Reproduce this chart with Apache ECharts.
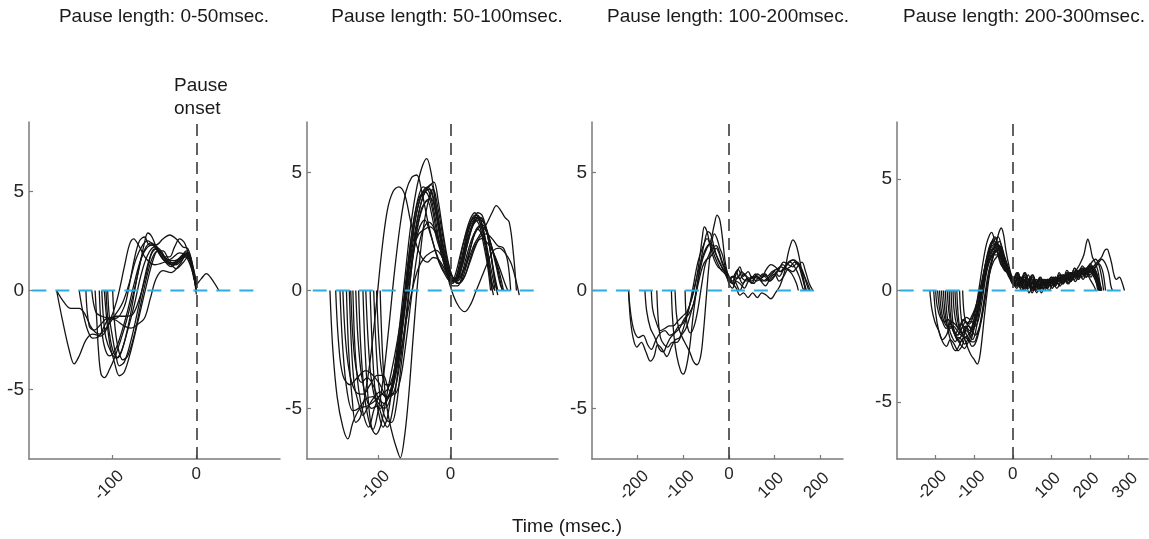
<!DOCTYPE html>
<html>
<head>
<meta charset="utf-8">
<script src="https://cdn.jsdelivr.net/npm/echarts@6/dist/echarts.min.js"></script>
<style>
html,body{margin:0;padding:0;background:#fff;}
#chart{width:1149px;height:539px;}
</style>
</head>
<body>
<div id="chart"></div>
<script>
// ---------- DATA ----------
const panelTitles = ["Pause length: 0-50msec.", "Pause length: 50-100msec.", "Pause length: 100-200msec.", "Pause length: 200-300msec."];
const xAxisTitle = "Time (msec.)";
const onsetLabel = "Pause\nonset";
const xTickValues = [[-100, 0], [-100, 0], [-200, -100, 0, 100, 200], [-200, -100, 0, 100, 200, 300]];
const xRotatedLabelValues = [[-100], [-100], [-200, -100, 100, 200], [-200, -100, 100, 200, 300]];
const xUprightLabelValues = [0];
const yTickValues = [-5, 0, 5];
const xRanges = [[-200, 100], [-200, 150], [-300, 250], [-300, 350]];
const yRanges = [[-8.5, 8.5], [-7.15, 7.15], [-7.15, 7.15], [-7.55, 7.55]];
const zeroLineExtents = [[-196, 78], [-192, 124], [-298, 206], [-293, 298]];

const panel1Traces = [
  [[-167,0],[-160,-1.5],[-152,-3.0],[-146,-3.7],[-140,-3.3],[-132,-2.5],[-124,-2.2],[-114,-2.3],[-104,-1.6],[-95,-0.5],[-86,1.2],[-80,2.3],[-75,2.6],[-68,2.2],[-60,1.6],[-50,1.3],[-40,1.4],[-30,1.6],[-20,1.9],[-12,1.7],[-5,1.0],[0,0.2]],
  [[-167,0],[-158,-0.6],[-150,-0.9],[-140,-0.9],[-133,-1.2],[-125,-1.9],[-116,-2.2],[-108,-1.9],[-98,-1.3],[-88,-0.6],[-80,0.4],[-72,1.6],[-64,2.3],[-58,2.5],[-50,2.2],[-40,1.6],[-30,1.2],[-20,1.6],[-12,1.9],[-6,1.2],[0,0.3],[6,0.6],[12,0.85],[18,0.6],[27,0]],
  [[-140,0],[-136,-1.0],[-130,-2.0],[-124,-2.4],[-116,-2.3],[-106,-1.5],[-95,-1.3],[-85,-1.3],[-76,-1.2],[-68,-0.4],[-60,0.8],[-54,1.8],[-48,2.1],[-40,1.6],[-30,1.3],[-20,1.6],[-12,2.0],[-6,1.4],[0,0]],
  [[-121,0],[-119,-1.5],[-117,-3.0],[-114,-4.2],[-110,-4.4],[-104,-4.0],[-96,-3.2],[-86,-1.9],[-76,-0.3],[-68,1.2],[-62,2.4],[-58,2.9],[-53,2.7],[-46,2.0],[-38,1.5],[-28,1.4],[-18,1.7],[-12,1.9],[-6,1.4],[0,0.1]],
  [[-116,0],[-114,-1.6],[-110,-2.8],[-104,-3.3],[-97,-3.0],[-90,-2.2],[-82,-1.0],[-74,0.4],[-66,1.6],[-58,2.2],[-50,2.3],[-44,2.0],[-36,1.6],[-26,1.5],[-16,1.8],[-10,1.9],[-4,1.2],[0,0.4]],
  [[-113,0],[-111,-1.4],[-108,-2.4],[-102,-3.1],[-96,-3.4],[-90,-3.1],[-82,-2.0],[-74,-0.7],[-66,0.8],[-58,1.8],[-50,2.2],[-42,2.0],[-34,1.4],[-26,1.3],[-18,1.6],[-12,1.7],[-6,1.3],[0,0]],
  [[-106,0],[-104,-1.3],[-100,-2.4],[-96,-3.3],[-92,-3.8],[-86,-3.6],[-78,-2.5],[-70,-1.0],[-62,0.6],[-56,1.6],[-50,2.1],[-44,2.0],[-36,1.5],[-28,1.3],[-20,1.5],[-13,1.8],[-6,1.3],[0,0]],
  [[-110,0],[-107,-1.5],[-103,-2.8],[-98,-3.6],[-92,-4.3],[-86,-4.1],[-78,-3.0],[-70,-1.6],[-60,0.2],[-52,1.5],[-46,2.0],[-40,2.0],[-32,1.5],[-24,1.3],[-16,1.6],[-10,1.9],[-4,1.0],[0,-0.2]],
  [[-125,0],[-120,-1.1],[-113,-1.3],[-104,-1.4],[-96,-1.5],[-86,-1.8],[-78,-1.9],[-70,-1.7],[-62,-1.4],[-55,-0.4],[-48,0.6],[-40,1.0],[-30,0.9],[-20,1.3],[-12,1.8],[-6,1.4],[0,0]],
  [[-108,0],[-105,-1.8],[-100,-3.0],[-94,-3.4],[-88,-2.9],[-80,-1.5],[-72,0.4],[-66,1.6],[-60,2.2],[-54,2.4],[-48,2.2],[-40,1.7],[-32,1.7],[-26,2.2],[-20,2.6],[-14,2.4],[-8,1.6],[0,0.3]],
  [[-100,0],[-98,-1.5],[-94,-2.8],[-88,-3.5],[-82,-3.3],[-74,-2.2],[-66,-0.6],[-58,0.9],[-52,1.7],[-46,2.0],[-40,1.8],[-32,1.4],[-24,1.1],[-16,1.4],[-10,1.7],[-4,1.0],[0,0]],
  [[-132,0],[-128,-1.8],[-122,-2.0],[-114,-1.7],[-106,-1.4],[-96,-1.4],[-86,-0.8],[-80,0.3],[-74,1.6],[-68,2.5],[-62,2.7],[-56,2.3],[-48,2.3],[-40,2.6],[-32,2.8],[-24,2.6],[-16,2.2],[-10,2.1],[-4,1.2],[0,0.2]]
];

const panel2Traces = [
  [[-168,0],[-164,-2.5],[-158,-4.5],[-150,-5.8],[-143,-6.3],[-136,-5.6],[-126,-5.0],[-116,-4.9],[-106,-4.7],[-96,-4.4],[-88,-4.2],[-80,-3.6],[-72,-2.2],[-62,-0.2],[-52,1.5],[-44,2.6],[-36,3.0],[-28,2.4],[-20,1.6],[-12,1.0],[-4,0.6],[2,0.4],[8,0.8],[16,1.8],[24,2.6],[32,3.1],[38,3.2],[44,2.8],[50,2.0],[56,1.0],[62,0.1]],
  [[-154,0],[-150,-2.5],[-144,-4.3],[-136,-5.1],[-128,-5.0],[-118,-4.6],[-108,-4.5],[-100,-4.8],[-92,-5.0],[-84,-4.6],[-76,-3.2],[-68,-1.2],[-60,1.0],[-52,2.8],[-44,3.9],[-36,4.2],[-28,3.8],[-20,2.6],[-12,1.5],[-4,0.7],[3,0.3],[10,0.8],[18,2.0],[26,2.9],[34,3.3],[40,3.0],[46,2.4],[52,1.4],[58,0.3],[62,0]],
  [[-141,0],[-138,-2.4],[-134,-4.0],[-128,-4.8],[-122,-5.3],[-116,-5.0],[-108,-4.6],[-98,-4.3],[-88,-4.6],[-80,-4.0],[-72,-2.5],[-62,0.2],[-54,2.4],[-46,3.8],[-38,4.4],[-30,4.2],[-22,3.2],[-14,1.8],[-6,0.8],[2,0.3],[10,0.6],[18,1.6],[26,2.7],[34,3.2],[42,3.0],[48,2.2],[54,1.0],[58,0]],
  [[-136,0],[-133,-2.5],[-128,-4.2],[-121,-5.3],[-114,-5.8],[-106,-5.0],[-96,-4.4],[-88,-4.5],[-80,-4.1],[-72,-2.8],[-64,-0.6],[-56,1.6],[-48,3.2],[-40,4.1],[-32,4.4],[-25,4.0],[-18,3.0],[-10,1.8],[-2,0.8],[4,0.4],[12,0.9],[20,2.0],[28,2.9],[36,3.1],[44,2.6],[50,1.6],[56,0.4],[60,-0.2]],
  [[-132,0],[-129,-2.0],[-124,-3.6],[-117,-4.6],[-110,-5.0],[-102,-4.9],[-94,-5.5],[-88,-5.8],[-82,-5.3],[-74,-3.6],[-66,-1.4],[-58,1.0],[-50,2.8],[-42,3.9],[-34,4.3],[-27,4.5],[-20,3.6],[-12,2.2],[-4,1.0],[3,0.4],[10,0.5],[18,1.4],[26,2.4],[34,3.0],[42,3.1],[50,2.6],[56,1.6],[62,0.4],[66,-0.2]],
  [[-122,0],[-119,-2.5],[-115,-4.5],[-110,-5.8],[-104,-6.1],[-98,-5.8],[-92,-5.0],[-86,-4.0],[-78,-2.8],[-70,-1.4],[-60,0.6],[-50,2.4],[-42,3.6],[-35,4.2],[-28,4.3],[-22,3.6],[-14,2.2],[-6,1.0],[1,0.4],[8,0.5],[16,1.3],[24,2.2],[32,2.8],[40,3.0],[48,2.8],[56,2.0],[64,1.0],[70,0.2],[74,0]],
  [[-107,0],[-104,-2.2],[-100,-4.0],[-95,-5.0],[-89,-5.5],[-82,-5.6],[-76,-5.0],[-70,-3.5],[-62,-1.4],[-54,1.0],[-46,3.0],[-38,4.0],[-30,4.4],[-23,4.6],[-17,3.8],[-10,2.4],[-3,1.2],[4,0.5],[12,0.3],[20,0.8],[28,1.8],[36,2.6],[44,2.8],[52,2.4],[60,1.6],[68,0.8],[74,0]],
  [[-98,0],[-95,-2.5],[-91,-4.4],[-86,-5.4],[-80,-6.2],[-74,-6.8],[-70,-7.1],[-64,-6.2],[-58,-4.4],[-52,-2.0],[-45,0.6],[-38,2.6],[-30,3.9],[-24,4.3],[-18,3.6],[-10,2.2],[-2,1.0],[6,0.5],[14,0.6],[22,1.4],[30,2.2],[38,2.6],[46,2.2],[52,1.4],[58,0.3],[62,0]],
  [[-160,0],[-156,-2.2],[-150,-3.6],[-140,-4.0],[-130,-3.7],[-118,-3.4],[-108,-3.6],[-98,-4.0],[-88,-4.5],[-80,-4.4],[-72,-3.4],[-64,-1.6],[-56,0.5],[-48,2.3],[-40,3.5],[-32,3.8],[-26,3.2],[-20,2.3],[-12,1.5],[-4,0.8],[3,0.2],[10,0.2],[18,0.8],[26,1.6],[34,2.4],[42,2.7],[50,2.5],[58,1.8],[66,0.9],[72,0]],
  [[-145,0],[-142,-2.5],[-137,-4.6],[-132,-5.6],[-126,-5.4],[-120,-4.6],[-112,-3.0],[-104,-0.8],[-96,1.6],[-88,3.4],[-80,4.2],[-72,4.4],[-64,4.1],[-56,3.0],[-48,2.0],[-40,1.4],[-32,1.2],[-24,1.4],[-16,1.3],[-8,0.9],[0,0.5],[8,0.4],[16,1.0],[24,2.0],[32,2.8],[40,3.1],[48,2.8],[54,2.0],[60,0.9],[66,0]],
  [[-128,0],[-125,-2.4],[-120,-4.4],[-114,-5.5],[-108,-5.9],[-102,-5.3],[-94,-3.8],[-86,-1.6],[-78,0.8],[-70,2.8],[-62,4.2],[-54,4.8],[-47,4.9],[-40,4.2],[-32,3.0],[-24,2.0],[-16,1.2],[-8,0.7],[0,0.4],[8,0.4],[16,1.0],[24,2.0],[32,2.9],[38,3.3],[44,3.2],[50,2.6],[56,1.6],[62,0.4],[66,0]],
  [[-112,0],[-109,-2.4],[-105,-4.3],[-100,-5.2],[-94,-5.8],[-88,-5.4],[-80,-3.8],[-72,-1.8],[-64,0.4],[-56,2.6],[-48,4.2],[-40,5.2],[-33,5.6],[-27,5.0],[-20,3.6],[-12,2.2],[-4,1.0],[3,0.4],[10,0.6],[18,1.6],[26,2.6],[34,3.0],[40,2.8],[46,2.0],[52,1.0],[56,0]],
  [[-118,0],[-115,-2.0],[-111,-3.6],[-105,-4.6],[-98,-5.0],[-90,-4.7],[-82,-4.1],[-74,-3.0],[-66,-1.4],[-58,0.4],[-50,2.0],[-42,3.2],[-34,3.8],[-27,3.9],[-20,3.2],[-12,1.8],[-4,0.6],[4,-0.2],[12,-0.7],[20,-0.9],[28,-0.6],[36,0.0],[44,0.6],[52,1.2],[60,1.7],[68,1.8],[76,1.6],[84,1.2],[90,0.6],[96,-0.2]],
  [[-150,0],[-146,-2.2],[-140,-3.6],[-132,-4.3],[-122,-4.4],[-112,-4.0],[-102,-3.6],[-94,-3.6],[-86,-4.2],[-78,-4.4],[-70,-3.8],[-62,-2.2],[-54,-0.2],[-46,1.6],[-38,2.6],[-30,2.9],[-22,2.6],[-14,1.9],[-6,1.2],[2,0.6],[10,0.4],[18,0.8],[26,1.4],[34,2.0],[42,2.4],[50,2.8],[58,3.3],[64,3.6],[70,3.4],[76,3.1],[82,2.9],[88,1.5],[92,0]],
  [[-103,0],[-100,-2.0],[-96,-3.4],[-90,-4.0],[-84,-4.0],[-76,-3.4],[-68,-2.4],[-60,-1.0],[-52,0.2],[-44,1.0],[-36,1.4],[-28,1.6],[-20,1.7],[-13,1.5],[-6,1.0],[2,0.6],[10,0.3],[18,0.5],[26,1.1],[34,1.8],[42,2.3],[50,2.4],[58,2.2],[66,1.9],[74,1.8],[80,1.2],[84,0]],
  [[-139,0],[-136,-2.0],[-131,-3.4],[-124,-3.9],[-116,-3.7],[-108,-4.0],[-100,-4.6],[-92,-4.8],[-84,-4.3],[-76,-3.0],[-68,-1.4],[-60,0.4],[-52,1.8],[-44,2.4],[-36,2.6],[-28,2.7],[-20,2.4],[-12,1.7],[-4,1.0],[4,0.5],[12,0.3],[20,0.6],[28,1.4],[36,2.0],[44,2.2],[52,2.0],[60,1.6],[68,1.0],[76,0.3],[80,0]]
];

const panel3Traces = [
  [[-220,0],[-215,-1.0],[-208,-1.7],[-198,-2.0],[-188,-1.9],[-178,-2.3],[-170,-2.5],[-160,-2.1],[-150,-1.8],[-140,-1.7],[-130,-1.9],[-120,-1.8],[-110,-1.5],[-100,-1.4],[-90,-0.9],[-80,-0.2],[-70,0.6],[-60,1.3],[-50,1.8],[-40,2.0],[-30,1.6],[-20,1.2],[-10,0.8],[0,0.5],[10,0.6],[20,0.9],[30,0.5],[40,0.4],[50,0.6],[60,0.4],[70,0.5],[80,0.7],[90,0.4],[100,0.6],[110,0.9],[120,1.2],[130,1.1],[140,1.0],[150,1.2],[160,0.8],[170,0.4],[178,0]],
  [[-220,0],[-216,-1.2],[-210,-2.0],[-202,-2.4],[-192,-2.2],[-182,-2.6],[-172,-3.0],[-164,-2.8],[-156,-2.3],[-146,-2.5],[-136,-2.8],[-126,-2.4],[-118,-2.1],[-108,-2.0],[-98,-1.5],[-88,-0.8],[-78,0.2],[-68,1.2],[-58,1.8],[-48,2.2],[-38,1.8],[-28,1.3],[-18,0.9],[-8,0.7],[0,0.4],[10,0.3],[20,0.6],[30,0.3],[40,0.5],[50,0.4],[60,0.6],[70,0.5],[80,0.4],[90,0.6],[100,0.8],[110,0.6],[120,0.9],[130,1.2],[140,1.3],[150,1.1],[160,0.9],[170,0.3],[175,0]],
  [[-184,0],[-180,-0.9],[-172,-1.6],[-162,-2.0],[-152,-2.5],[-144,-2.6],[-136,-2.3],[-128,-2.0],[-118,-1.8],[-108,-1.6],[-98,-1.2],[-88,-1.0],[-78,-0.6],[-70,0.2],[-62,1.2],[-54,2.0],[-46,2.5],[-40,2.4],[-32,1.8],[-24,1.3],[-16,1.0],[-8,0.8],[0,0.3],[8,0.1],[16,0.4],[24,0.3],[34,0.1],[44,0.4],[54,0.3],[64,0.5],[74,0.4],[84,0.5],[94,0.7],[104,0.9],[114,0.8],[124,1.0],[134,1.2],[144,1.0],[154,0.6],[162,0.1],[166,0]],
  [[-170,0],[-167,-0.8],[-160,-1.3],[-150,-1.7],[-140,-1.6],[-130,-1.5],[-122,-1.5],[-112,-1.3],[-102,-1.1],[-92,-0.9],[-82,-0.4],[-72,0.4],[-64,1.4],[-58,2.3],[-54,2.7],[-48,2.5],[-40,1.8],[-32,1.3],[-24,1.0],[-16,0.9],[-8,0.8],[0,0.6],[8,0.4],[16,0.7],[24,1.0],[32,0.6],[42,0.8],[52,0.5],[62,0.7],[72,0.6],[82,0.9],[92,1.1],[102,1.0],[112,0.8],[122,1.0],[132,1.2],[142,1.3],[152,1.1],[160,0.6],[168,0]],
  [[-126,0],[-124,-1.0],[-120,-2.0],[-114,-2.8],[-106,-3.4],[-100,-3.55],[-94,-3.3],[-86,-2.4],[-78,-1.0],[-68,0.4],[-58,1.3],[-48,1.8],[-40,2.1],[-32,2.8],[-26,3.2],[-20,3.0],[-14,2.2],[-8,1.2],[0,0.5],[8,0.3],[16,0.8],[24,0.5],[34,0.7],[44,0.4],[54,0.6],[64,0.5],[74,0.7],[84,0.6],[94,0.8],[104,0.9],[114,1.0],[124,0.9],[134,1.0],[144,1.2],[154,1.1],[162,0.6],[168,0]],
  [[-118,0],[-115,-1.0],[-110,-1.6],[-102,-2.0],[-94,-2.3],[-86,-2.6],[-78,-3.0],[-70,-3.15],[-62,-2.8],[-56,-1.8],[-50,-0.4],[-44,1.0],[-38,2.0],[-32,2.4],[-26,2.2],[-20,1.8],[-14,1.5],[-8,1.0],[0,0.6],[8,0.3],[16,0.1],[24,-0.2],[32,-0.1],[42,-0.3],[52,-0.1],[62,-0.3],[72,-0.1],[82,-0.2],[92,-0.35],[102,-0.1],[112,0.2],[122,0.8],[130,1.6],[136,2.0],[140,2.15],[146,2.0],[152,1.6],[158,1.0],[164,0.4],[170,0]],
  [[-96,0],[-94,-1.0],[-90,-1.6],[-84,-1.8],[-76,-1.5],[-68,-0.8],[-60,0.2],[-52,1.1],[-44,1.5],[-36,1.8],[-28,1.9],[-22,1.7],[-16,1.3],[-8,0.9],[0,0.5],[8,0.6],[16,0.3],[24,0.0],[32,0.3],[40,0.5],[50,0.3],[60,0.6],[70,0.4],[80,0.2],[90,0.5],[100,0.7],[110,0.4],[120,0.6],[130,0.9],[140,0.8],[150,1.0],[160,1.2],[168,0.8],[176,0.3],[184,0]],
  [[-158,0],[-155,-1.2],[-150,-2.0],[-142,-2.3],[-134,-2.4],[-124,-2.2],[-114,-2.2],[-104,-1.9],[-94,-1.6],[-84,-1.0],[-74,-0.3],[-66,0.4],[-58,1.0],[-50,1.3],[-42,1.4],[-34,1.6],[-28,1.8],[-22,1.6],[-14,1.1],[-6,0.8],[0,0.4],[8,0.6],[18,0.5],[28,0.8],[38,0.6],[48,0.5],[58,0.7],[68,0.5],[78,0.6],[88,0.4],[98,0.6],[108,0.9],[118,1.1],[128,0.9],[138,0.7],[148,0.3],[152,0]]
];

const panel4Traces = [
  [[-215,0],[-210,-0.8],[-202,-1.4],[-192,-1.8],[-182,-2.2],[-172,-2.0],[-162,-1.6],[-152,-1.9],[-142,-2.2],[-132,-2.0],[-122,-1.6],[-112,-1.8],[-102,-1.4],[-92,-0.8],[-82,0.0],[-72,0.8],[-62,1.6],[-54,2.2],[-46,2.4],[-38,2.0],[-30,1.4],[-22,1.0],[-14,0.8],[-6,0.5],[0,0.3],[10,0.4],[20,0.1],[30,0.5],[40,0.2],[50,0.4],[60,0.1],[70,0.5],[80,0.3],[90,0.5],[100,0.2],[110,0.6],[120,0.4],[130,0.7],[140,0.5],[150,0.8],[160,0.6],[170,0.9],[180,0.7],[190,1.0],[200,0.8],[210,1.0],[220,0.6],[228,0]],
  [[-205,0],[-200,-1.0],[-192,-1.8],[-182,-2.3],[-172,-2.5],[-162,-2.2],[-152,-2.4],[-142,-2.7],[-132,-2.5],[-122,-2.1],[-112,-2.3],[-102,-1.8],[-92,-1.0],[-82,-0.2],[-72,0.6],[-64,1.4],[-56,2.0],[-48,2.2],[-40,2.0],[-32,1.5],[-24,1.1],[-16,0.9],[-8,0.6],[0,0.4],[10,0.2],[20,0.5],[30,0.1],[40,0.4],[50,0.0],[60,0.3],[70,0.1],[80,0.4],[90,0.2],[100,0.5],[110,0.3],[120,0.6],[130,0.4],[140,0.7],[150,0.5],[160,0.8],[170,0.6],[180,0.9],[190,0.7],[200,1.1],[210,0.8],[220,0.4],[226,0]],
  [[-195,0],[-190,-0.8],[-182,-1.4],[-172,-1.7],[-162,-1.5],[-152,-1.8],[-142,-2.0],[-132,-1.7],[-122,-1.4],[-112,-1.5],[-102,-1.1],[-92,-0.5],[-82,0.3],[-72,1.1],[-62,1.8],[-54,2.2],[-46,2.0],[-38,1.6],[-30,1.2],[-22,0.9],[-14,0.8],[-6,0.6],[0,0.5],[10,0.7],[20,0.3],[30,0.6],[40,0.2],[50,0.5],[60,0.2],[70,0.4],[80,0.1],[90,0.4],[100,0.6],[110,0.4],[120,0.7],[130,0.5],[140,0.8],[150,0.6],[160,1.0],[170,0.8],[180,1.1],[190,0.9],[200,1.2],[210,0.9],[218,0.4],[224,0]],
  [[-150,0],[-146,-1.0],[-140,-1.6],[-132,-1.9],[-124,-2.2],[-116,-2.6],[-108,-2.9],[-100,-3.1],[-92,-3.3],[-86,-3.0],[-80,-2.2],[-74,-1.2],[-66,0.0],[-58,1.0],[-50,1.6],[-42,1.8],[-34,2.0],[-28,1.8],[-20,1.3],[-12,0.9],[-4,0.6],[4,0.3],[12,0.6],[20,0.2],[28,0.5],[36,0.1],[44,0.4],[54,0.0],[64,0.3],[74,-0.1],[84,0.2],[94,0.0],[104,0.3],[114,0.1],[124,0.4],[134,0.6],[144,0.3],[154,0.6],[164,0.9],[174,1.2],[184,1.6],[190,2.1],[194,2.3],[200,2.0],[206,1.5],[212,1.3],[220,0.9],[226,0.3],[230,0]],
  [[-180,0],[-176,-0.9],[-170,-1.6],[-162,-2.2],[-154,-2.6],[-147,-2.7],[-140,-2.5],[-132,-2.2],[-124,-2.1],[-116,-2.0],[-108,-1.8],[-100,-1.2],[-92,-0.4],[-84,0.5],[-76,1.4],[-68,2.1],[-60,2.5],[-55,2.6],[-48,2.3],[-40,1.7],[-32,1.2],[-24,1.0],[-16,0.9],[-8,0.7],[0,0.5],[10,0.3],[20,0.6],[30,0.4],[40,0.7],[50,0.3],[60,0.5],[70,0.2],[80,0.5],[90,0.3],[100,0.6],[110,0.4],[120,0.8],[130,0.5],[140,0.9],[150,0.7],[160,1.0],[170,0.7],[180,1.0],[190,0.8],[200,0.5],[210,0.2],[215,0]],
  [[-138,0],[-135,-1.0],[-130,-1.6],[-122,-1.9],[-114,-2.2],[-106,-2.5],[-98,-2.4],[-90,-2.0],[-82,-1.4],[-74,-0.6],[-66,0.3],[-58,1.0],[-50,1.6],[-42,2.2],[-36,2.6],[-30,2.8],[-24,2.5],[-18,1.8],[-10,1.1],[-2,0.6],[6,0.4],[14,0.8],[22,0.4],[30,0.7],[38,0.3],[46,0.6],[56,0.2],[66,0.5],[76,0.2],[86,0.5],[96,0.3],[106,0.6],[116,0.4],[126,0.7],[136,0.5],[146,0.8],[156,0.6],[166,0.9],[176,0.7],[186,1.0],[196,0.8],[206,1.1],[216,0.8],[224,0.3],[228,0]],
  [[-170,0],[-166,-0.9],[-160,-1.5],[-152,-1.9],[-144,-2.0],[-136,-1.8],[-128,-1.6],[-120,-1.7],[-112,-1.9],[-104,-1.6],[-96,-1.2],[-88,-0.5],[-80,0.3],[-72,0.9],[-64,1.3],[-56,1.5],[-48,1.7],[-40,1.9],[-32,1.8],[-24,1.4],[-16,1.0],[-8,0.6],[0,0.3],[10,0.5],[20,0.2],[30,0.4],[40,0.1],[50,0.3],[60,0.0],[70,0.3],[80,0.1],[90,0.3],[100,0.5],[110,0.3],[120,0.5],[130,0.3],[140,0.6],[150,0.4],[160,0.7],[170,0.5],[180,0.8],[190,0.6],[200,0.9],[210,1.1],[220,1.3],[230,1.5],[238,1.8],[244,1.85],[250,1.6],[256,1.2],[262,0.7],[268,0.5],[276,0.6],[282,0.4],[289,0]],
  [[-160,0],[-157,-1.1],[-152,-1.8],[-144,-2.1],[-136,-2.3],[-128,-2.1],[-120,-1.8],[-112,-2.0],[-104,-2.2],[-96,-1.8],[-88,-1.0],[-80,-0.1],[-72,0.8],[-64,1.4],[-56,1.8],[-48,2.0],[-40,2.1],[-32,1.9],[-24,1.5],[-16,1.1],[-8,0.7],[0,0.4],[10,0.1],[20,0.3],[30,0.0],[40,0.3],[50,-0.1],[60,0.2],[70,0.0],[80,0.3],[90,0.1],[100,0.4],[110,0.2],[120,0.5],[130,0.3],[140,0.6],[150,0.4],[160,0.7],[170,0.5],[180,0.8],[190,0.6],[200,0.9],[210,0.6],[220,0.2],[225,0]],
  [[-145,0],[-142,-1.0],[-137,-1.7],[-129,-2.0],[-121,-1.7],[-113,-1.4],[-105,-1.4],[-97,-1.6],[-89,-1.3],[-81,-0.6],[-73,0.3],[-65,1.1],[-57,1.6],[-49,1.9],[-41,2.1],[-35,2.2],[-29,2.0],[-21,1.5],[-13,1.1],[-5,0.7],[3,0.4],[12,0.2],[22,0.5],[32,0.2],[42,0.5],[52,0.1],[62,0.4],[72,0.1],[82,0.4],[92,0.2],[102,0.5],[112,0.3],[122,0.6],[132,0.4],[142,0.7],[152,0.5],[162,0.8],[172,0.6],[182,0.9],[192,0.7],[202,1.0],[212,0.8],[220,0.4],[226,0]],
  [[-190,0],[-186,-0.8],[-180,-1.3],[-170,-1.6],[-160,-1.4],[-150,-1.5],[-140,-1.7],[-130,-1.4],[-120,-1.2],[-110,-1.3],[-100,-1.0],[-90,-0.6],[-80,0.1],[-70,0.8],[-62,1.3],[-54,1.6],[-46,1.8],[-38,1.7],[-30,1.4],[-22,1.0],[-14,0.8],[-6,0.6],[0,0.5],[10,0.8],[20,0.4],[30,0.8],[40,0.5],[50,0.7],[60,0.3],[70,0.6],[80,0.3],[90,0.5],[100,0.2],[110,0.5],[120,0.3],[130,0.6],[140,0.4],[150,0.7],[160,0.5],[170,0.8],[180,0.6],[190,0.9],[200,0.7],[210,1.0],[220,1.2],[230,1.4],[240,1.2],[248,0.8],[254,0.2],[258,0]],
  [[-130,0],[-127,-0.9],[-122,-1.4],[-114,-1.6],[-106,-1.8],[-98,-2.0],[-90,-1.8],[-82,-1.3],[-74,-0.5],[-66,0.3],[-58,0.9],[-50,1.3],[-42,1.5],[-34,1.6],[-28,1.5],[-20,1.2],[-12,0.9],[-4,0.6],[4,0.2],[12,0.5],[22,0.0],[32,0.3],[42,-0.1],[52,0.2],[62,-0.1],[72,0.2],[82,0.0],[92,0.3],[102,0.1],[112,0.4],[122,0.2],[132,0.5],[142,0.3],[152,0.6],[162,0.4],[172,0.7],[182,0.5],[192,0.8],[202,0.6],[212,0.9],[220,0.5],[226,0]],
  [[-175,0],[-171,-1.0],[-165,-1.7],[-157,-2.1],[-149,-2.3],[-141,-2.1],[-133,-2.2],[-125,-2.4],[-117,-2.2],[-109,-1.9],[-101,-1.6],[-93,-1.0],[-85,-0.2],[-77,0.6],[-69,1.3],[-61,1.8],[-53,2.0],[-45,2.1],[-37,2.0],[-29,1.6],[-21,1.2],[-13,0.9],[-5,0.6],[3,0.5],[12,0.8],[22,0.5],[32,0.8],[42,0.4],[52,0.7],[62,0.3],[72,0.6],[82,0.2],[92,0.5],[102,0.3],[112,0.6],[122,0.4],[132,0.7],[142,0.5],[152,0.8],[162,0.6],[172,0.9],[182,0.7],[192,1.0],[202,0.8],[212,1.0],[222,1.2],[232,0.9],[238,0.3],[240,0]],
  [[-200,0],[-196,-0.7],[-188,-1.2],[-178,-1.4],[-168,-1.3],[-158,-1.6],[-148,-1.9],[-138,-1.6],[-128,-1.3],[-118,-1.5],[-108,-1.2],[-98,-0.8],[-88,-0.2],[-78,0.5],[-68,1.2],[-58,1.7],[-48,1.9],[-40,2.0],[-32,1.7],[-24,1.2],[-16,0.9],[-8,0.6],[0,0.4],[10,0.6],[20,0.3],[30,0.6],[40,0.3],[50,0.6],[60,0.2],[70,0.5],[80,0.2],[90,0.5],[100,0.3],[110,0.6],[120,0.4],[130,0.7],[140,0.5],[150,0.8],[160,0.6],[170,0.9],[180,0.8],[190,1.0],[200,0.9],[210,0.7],[218,0.3],[222,0]],
  [[-165,0],[-162,-1.0],[-156,-1.7],[-148,-2.1],[-140,-2.3],[-132,-2.5],[-125,-2.6],[-118,-2.4],[-110,-2.1],[-102,-1.8],[-94,-1.2],[-86,-0.4],[-78,0.5],[-70,1.3],[-62,1.9],[-54,2.2],[-46,2.3],[-38,2.4],[-30,2.0],[-22,1.4],[-14,1.0],[-6,0.7],[2,0.4],[12,0.3],[22,0.6],[32,0.2],[42,0.5],[52,0.1],[62,0.4],[72,0.2],[82,0.5],[92,0.3],[102,0.6],[112,0.4],[122,0.7],[132,0.5],[142,0.8],[152,0.6],[162,0.9],[172,0.7],[182,1.0],[192,0.8],[202,1.1],[212,0.9],[222,0.5],[230,0]],
  [[-155,0],[-152,-0.9],[-146,-1.5],[-138,-1.8],[-130,-1.9],[-122,-1.7],[-114,-1.6],[-106,-1.7],[-98,-1.5],[-90,-1.0],[-82,-0.3],[-74,0.4],[-66,1.0],[-58,1.4],[-50,1.6],[-42,1.6],[-34,1.5],[-26,1.2],[-18,0.9],[-10,0.6],[-2,0.4],[8,0.2],[18,0.4],[28,0.1],[38,0.4],[48,0.1],[58,0.3],[68,0.0],[78,0.3],[88,0.1],[98,0.4],[108,0.2],[118,0.5],[128,0.3],[138,0.6],[148,0.4],[158,0.7],[168,0.6],[178,0.9],[188,0.8],[198,1.1],[206,1.3],[214,1.4],[222,1.2],[230,0.6],[235,0]],
  [[-185,0],[-181,-0.8],[-174,-1.4],[-164,-1.7],[-154,-1.6],[-144,-1.8],[-134,-2.0],[-124,-2.1],[-114,-2.2],[-106,-2.3],[-100,-2.3],[-94,-2.1],[-86,-1.6],[-78,-0.8],[-70,0.1],[-62,0.9],[-54,1.4],[-46,1.7],[-38,1.8],[-32,1.9],[-26,1.7],[-18,1.3],[-10,0.9],[-2,0.6],[6,0.4],[16,0.6],[26,0.3],[36,0.6],[46,0.3],[56,0.5],[66,0.2],[76,0.5],[86,0.3],[96,0.5],[106,0.3],[116,0.6],[126,0.4],[136,0.7],[146,0.5],[156,0.8],[166,0.7],[176,1.0],[186,0.8],[196,1.1],[206,0.9],[214,0.5],[220,0]]
];

const allTraces = [panel1Traces, panel2Traces, panel3Traces, panel4Traces];

// ---------- LAYOUT ----------
const gridBoxes = [
  {left: 29, top: 122, width: 251, height: 337},
  {left: 307, top: 122, width: 251, height: 337},
  {left: 592, top: 122, width: 251, height: 337},
  {left: 897, top: 122, width: 251, height: 337}
];
const titleCenters = [164, 447, 728, 1024];

const FONT = 'Liberation Sans, Arial, Helvetica, sans-serif';
const axisGray = '#7a7a7a';
const textColor = '#262626';

const grids = [], xAxes = [], yAxes = [], series = [];
gridBoxes.forEach((g, i) => {
  grids.push(Object.assign({containLabel: false}, g));
  xAxes.push({
    type: 'value', gridIndex: i, position: 'bottom', min: xRanges[i][0], max: xRanges[i][1],
    splitLine: {show: false},
    axisLine: {show: true, onZero: false, lineStyle: {color: axisGray, width: 1.5}},
    axisTick: {show: true, inside: true, length: 4, customValues: xTickValues[i], lineStyle: {color: axisGray, width: 1.2}},
    axisLabel: {show: true, customValues: xRotatedLabelValues[i], rotate: 45, align: 'center', verticalAlign: 'middle',
      margin: 23, padding: [0, 10, 0, 0], fontSize: 17, fontFamily: FONT, color: textColor}
  });
  yAxes.push({
    type: 'value', gridIndex: i, min: yRanges[i][0], max: yRanges[i][1],
    splitLine: {show: false},
    axisLine: {show: true, onZero: false, lineStyle: {color: axisGray, width: 1.5}},
    axisTick: {show: true, inside: true, length: 4, customValues: yTickValues, lineStyle: {color: axisGray, width: 1.2}},
    axisLabel: {show: true, customValues: yTickValues, margin: 5, fontSize: 19, fontFamily: FONT, color: textColor}
  });
});
gridBoxes.forEach((g, i) => {
  xAxes.push({
    type: 'value', gridIndex: i, position: 'bottom', min: xRanges[i][0], max: xRanges[i][1],
    splitLine: {show: false}, axisLine: {show: false}, axisTick: {show: false},
    axisLabel: {show: true, customValues: xUprightLabelValues, rotate: 0, margin: 7, fontSize: 17, fontFamily: FONT, color: textColor}
  });
});

gridBoxes.forEach((g, i) => {
  allTraces[i].forEach(tr => {
    series.push({
      type: 'line', xAxisIndex: i, yAxisIndex: i, data: tr, showSymbol: false, symbol: 'none',
      smooth: 0.35, silent: true, z: 2,
      lineStyle: {color: '#141414', width: 1.3}
    });
  });
  const ze = zeroLineExtents[i];
  series.push({
    type: 'line', xAxisIndex: i, yAxisIndex: i, data: [[ze[0], 0], [ze[1], 0]], showSymbol: false, symbol: 'none',
    silent: true, z: 4,
    lineStyle: {color: '#2AADE3', width: 2, type: [14, 9]},
    markLine: {
      symbol: 'none', silent: true, label: {show: false}, animation: false,
      lineStyle: {color: '#3a3a3a', width: 1.6, type: [12, 7]},
      data: [{xAxis: 0}]
    }
  });
});

const graphics = panelTitles.map((t, i) => ({
  type: 'text', x: titleCenters[i], y: 17,
  style: {text: t, font: '19px ' + FONT, fill: '#1a1a1a', textAlign: 'center', textVerticalAlign: 'middle'}
}));
graphics.push({type: 'text', x: 174, y: 97,
  style: {text: onsetLabel, font: '19px ' + FONT, fill: '#1a1a1a', textAlign: 'left', textVerticalAlign: 'middle', lineHeight: 23}});
graphics.push({type: 'text', x: 567, y: 527,
  style: {text: xAxisTitle, font: '19px ' + FONT, fill: '#1a1a1a', textAlign: 'center', textVerticalAlign: 'middle'}});

const chart = echarts.init(document.getElementById('chart'), null, {renderer: 'canvas'});
chart.setOption({
  animation: false,
  backgroundColor: '#ffffff',
  grid: grids, xAxis: xAxes, yAxis: yAxes, series: series,
  graphic: graphics
});
</script>
</body>
</html>
